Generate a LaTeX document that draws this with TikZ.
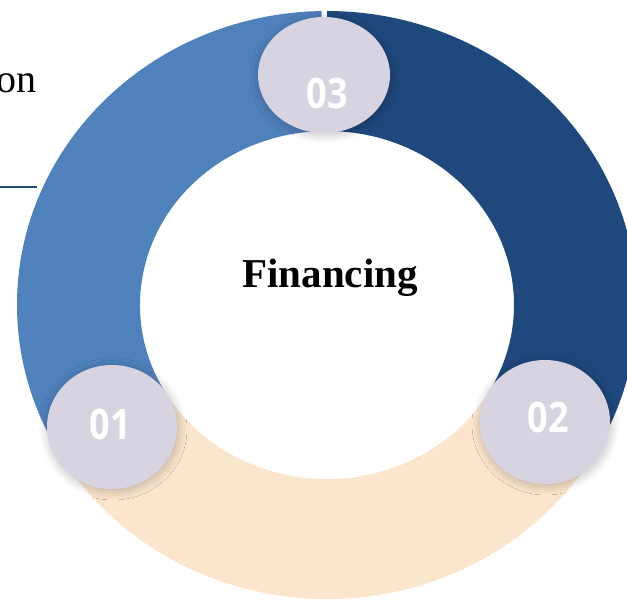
\documentclass[tikz,border=0pt]{standalone}
\usepackage{fontspec}
\setmainfont{Liberation Serif}
\newfontfamily\numfont[FakeStretch=0.86]{Open Sans}
\usetikzlibrary{shapes.geometric,shadows.blur}
\definecolor{lblue}{HTML}{4F81BD}
\definecolor{dblue}{HTML}{1F497D}
\definecolor{peach}{HTML}{FBE5CD}
\definecolor{lav}{HTML}{D7D3E1}

\begin{document}
\begin{tikzpicture}
   [x=1pt,y=1pt,
    badge/.style={ellipse,fill=lav,inner sep=0pt,minimum width=130pt,minimum height=124pt,
           blur shadow={shadow xshift=1pt,shadow yshift=-2pt,shadow blur radius=9pt,shadow blur steps=20,shadow opacity=25}},
    num/.style={text=white,font=\numfont\bfseries\fontsize{42}{42}\selectfont}]
\useasboundingbox (0,0) rectangle (627,600);
\clip (0,0) rectangle (627,600);
\pgfmathsetmacro{\rx}{310}
\pgfmathsetmacro{\ry}{294}
\pgfmathsetmacro{\ix}{187}
\pgfmathsetmacro{\iy}{174}

\begin{scope}[shift={(327,295)}]
\fill[peach] (210:{\rx} and {\ry}) arc[start angle=210,end angle=330,x radius=\rx,y radius=\ry]
        -- (330:{\ix} and {\iy}) arc[start angle=330,end angle=210,x radius=\ix,y radius=\iy] -- cycle;
\fill[lblue] (91:{\rx} and {\ry}) arc[start angle=91,end angle=210,x radius=\rx,y radius=\ry]
        -- (210:{\ix} and {\iy}) arc[start angle=210,end angle=91,x radius=\ix,y radius=\iy] -- cycle;
\fill[dblue] (-30:{\rx} and {\ry}) arc[start angle=-30,end angle=90,x radius=\rx,y radius=\ry]
        -- (90:{\ix} and {\iy}) arc[start angle=90,end angle=-30,x radius=\ix,y radius=\iy] -- cycle;
\end{scope}

\node[badge] (b1) at (112,173) {};
\node[badge] (b2) at (545,178) {};
\node[badge,minimum width=132pt,minimum height=116pt] (b3) at (324,525) {};
\node[num] (n1) at (110,176) {01};
\node[num] (n2) at (548,183) {02};
\node[num] (n3) at (327,507) {03};

\node[font=\bfseries\fontsize{41}{41}\selectfont,anchor=base] (fin) at (330,312) {Financing};
\node[font=\fontsize{40}{40}\selectfont,anchor=base east,inner sep=0pt] (on) at (37,507) {on};
\draw[dblue,line width=1.3pt] (0,413)--(37,413);
\end{tikzpicture}
\end{document}
